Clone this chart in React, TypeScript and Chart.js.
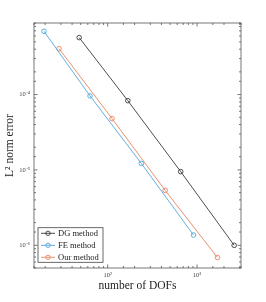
import React, { useEffect, useRef } from "react";
import { Chart, registerables } from "chart.js";

Chart.register(...registerables);

const seriesNames = ["DG method", "FE method", "Our method"];
const seriesColors = ["#3a3a3a", "#4fa7de", "#e8845f"];

const dofsDG = [48, 168, 656, 2600];
const errDG = [5.7e-4, 8.3e-5, 9.5e-6, 1.0e-6];
const dofsFE = [19.4, 63.5, 238, 912];
const errFE = [6.9e-4, 9.6e-5, 1.22e-5, 1.37e-6];
const dofsOur = [28.6, 112, 440, 1690];
const errOur = [4.06e-4, 4.8e-5, 5.35e-6, 6.9e-7];

const xTickLabels: Record<string, string> = { "100": "10²", "1000": "10³" };
const yTickLabels: Record<string, string> = { "0.0001": "10⁻⁴", "0.00001": "10⁻⁵", "0.000001": "10⁻⁶" };

const FONT = "'Liberation Serif', 'Times New Roman', serif";

function isPow10(v: number) {
  const l = Math.log10(v);
  return Math.abs(l - Math.round(l)) < 1e-9;
}
function powLabel(v: number, map: Record<string, string>) {
  if (!isPow10(v)) return "";
  const e = Math.round(Math.log10(v));
  for (const k of Object.keys(map)) {
    if (Math.abs(Math.log10(parseFloat(k)) - e) < 1e-9) return map[k];
  }
  return "";
}

const framePlugin = {
  id: "framePlugin",
  afterDraw(chart: any) {
    const ctx = chart.ctx;
    const a = chart.chartArea;
    ctx.save();
    ctx.strokeStyle = "#555";
    ctx.lineWidth = 0.8;
    ctx.strokeRect(a.left, a.top, a.right - a.left, a.bottom - a.top);
    const xs = chart.scales.x;
    const ys = chart.scales.y;
    ctx.beginPath();
    for (const t of xs.ticks) {
      const px = xs.getPixelForValue(t.value);
      if (px < a.left - 0.5 || px > a.right + 0.5) continue;
      const len = isPow10(t.value) ? 3.5 : 2;
      ctx.moveTo(px, a.bottom);
      ctx.lineTo(px, a.bottom - len);
      ctx.moveTo(px, a.top);
      ctx.lineTo(px, a.top + len);
    }
    for (const t of ys.ticks) {
      const py = ys.getPixelForValue(t.value);
      if (py < a.top - 0.5 || py > a.bottom + 0.5) continue;
      const len = isPow10(t.value) ? 3.5 : 2;
      ctx.moveTo(a.left, py);
      ctx.lineTo(a.left + len, py);
      ctx.moveTo(a.right, py);
      ctx.lineTo(a.right - len, py);
    }
    ctx.stroke();

    const bx = a.left + 4;
    const by = a.bottom - 40.3;
    const bw = 65;
    const bh = 34.6;
    ctx.fillStyle = "#fff";
    ctx.fillRect(bx, by, bw, bh);
    ctx.strokeStyle = "#444";
    ctx.lineWidth = 0.8;
    ctx.strokeRect(bx, by, bw, bh);
    ctx.font = `8.5px ${FONT}`;
    ctx.textBaseline = "middle";
    ctx.textAlign = "left";
    seriesNames.forEach((name, i) => {
      const ry = by + 5.6 + i * 12;
      ctx.strokeStyle = seriesColors[i];
      ctx.lineWidth = 0.9;
      ctx.beginPath();
      ctx.moveTo(bx + 3, ry);
      ctx.lineTo(bx + 17, ry);
      ctx.stroke();
      ctx.beginPath();
      ctx.arc(bx + 10, ry, 2.2, 0, Math.PI * 2);
      ctx.stroke();
      ctx.fillStyle = "#222";
      ctx.fillText(name, bx + 20, ry + 0.5);
    });
    ctx.restore();
  },
};

export default function App() {
  const ref = useRef<HTMLCanvasElement | null>(null);
  useEffect(() => {
    if (!ref.current) return;
    const mk = (xs: number[], ys: number[]) => xs.map((x, i) => ({ x, y: ys[i] }));
    const datas = [mk(dofsDG, errDG), mk(dofsFE, errFE), mk(dofsOur, errOur)];
    const chart = new Chart(ref.current, {
      type: "line",
      data: {
        datasets: datas.map((d, i) => ({
          label: seriesNames[i],
          data: d,
          borderColor: seriesColors[i],
          backgroundColor: "rgba(0,0,0,0)",
          borderWidth: 0.9,
          pointRadius: 2.3,
          pointBorderWidth: 0.9,
          pointBackgroundColor: "rgba(0,0,0,0)",
          pointBorderColor: seriesColors[i],
          tension: 0,
        })),
      },
      options: {
        responsive: false,
        animation: false,
        devicePixelRatio: 1,
        layout: { padding: { left: 0, right: 25, top: 23, bottom: 0 } },
        plugins: { legend: { display: false }, tooltip: { enabled: false } },
        scales: {
          x: {
            type: "logarithmic",
            min: 15,
            max: 3100,
            grid: { display: false, drawTicks: false },
            border: { display: false },
            ticks: {
              autoSkip: false,
              maxRotation: 0,
              padding: 3,
              color: "#444",
              font: { family: FONT, size: 6.5 },
              callback: (v: any) => powLabel(Number(v), xTickLabels),
            },
            title: {
              display: true,
              text: "number of DOFs",
              color: "#222",
              font: { family: FONT, size: 11.5 },
              padding: { top: 0, bottom: 9 },
            },
            afterFit: (s: any) => {
              s.height = 34;
            },
          },
          y: {
            type: "logarithmic",
            min: 5e-7,
            max: 8.9e-4,
            grid: { display: false, drawTicks: false },
            border: { display: false },
            ticks: {
              autoSkip: false,
              padding: 4,
              color: "#444",
              font: { family: FONT, size: 6.5 },
              callback: (v: any) => powLabel(Number(v), yTickLabels),
            },
            title: {
              display: true,
              text: "L² norm error",
              color: "#222",
              font: { family: FONT, size: 11.5 },
              padding: { top: 3, bottom: 0 },
            },
            afterFit: (s: any) => {
              s.width = 34;
            },
          },
        },
      },
      plugins: [framePlugin],
    });
    return () => chart.destroy();
  }, []);
  return (
    <div style={{ position: "fixed", left: 0, top: 0, width: 266, height: 302, background: "#fff" }}>
      <canvas ref={ref} width={266} height={302} style={{ width: 266, height: 302, display: "block" }} />
    </div>
  );
}
